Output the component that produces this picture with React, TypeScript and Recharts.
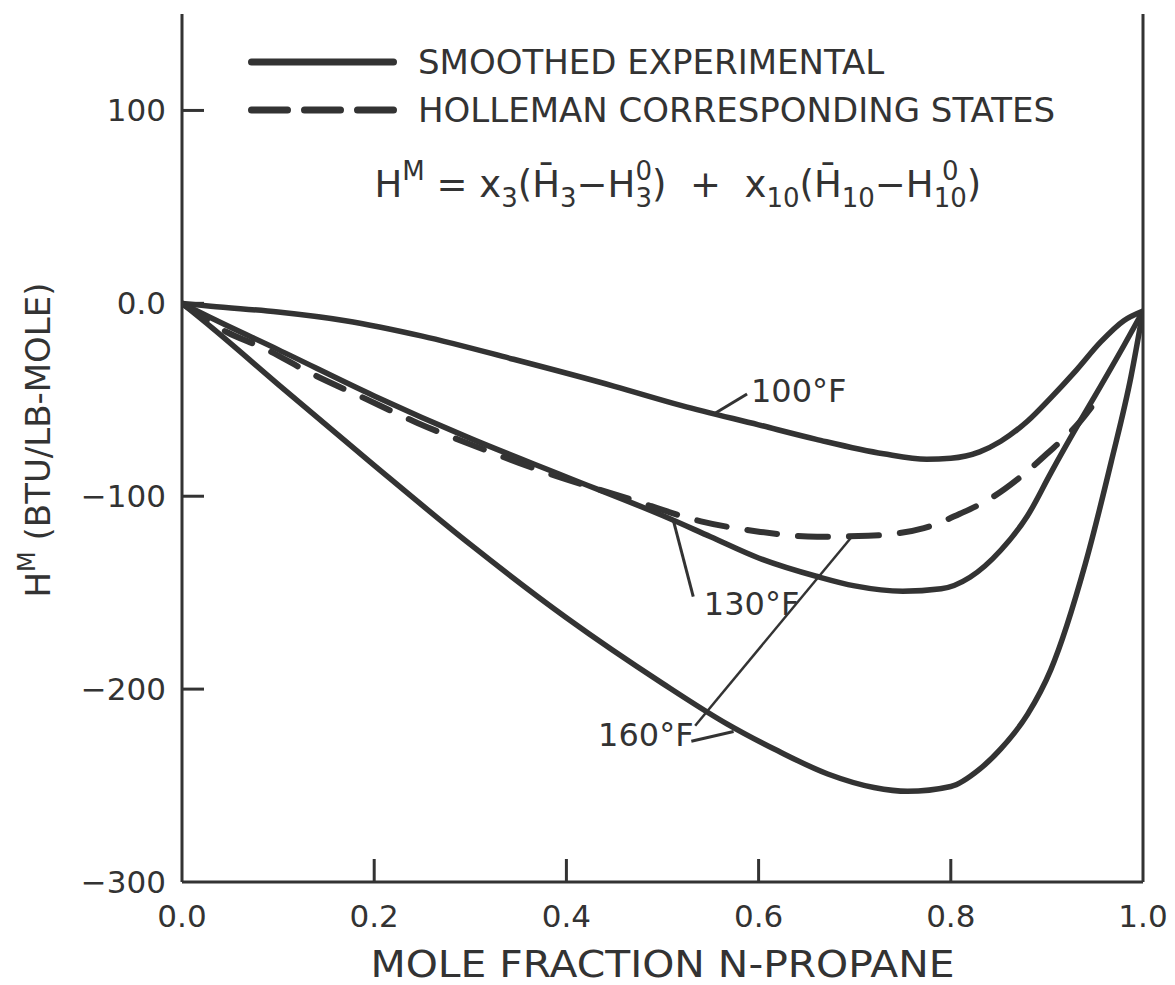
import React from "react";
import { LineChart, Line, XAxis, YAxis, Legend, ReferenceLine, ReferenceDot, Label } from "recharts";

const INK = "#333";
const FONT = "'DejaVu Sans', sans-serif";

// axis ticks
const xTicks = [0, 0.2, 0.4, 0.6, 0.8, 1.0];
const yTicks = [-300, -200, -100, 0, 100];
const rightTicks = [-200, -100, 0, 100];
const topTicks = [0.2, 0.4, 0.6, 0.8];

// smoothed experimental, 100 F
const x100 = [0, 0.03, 0.1, 0.17, 0.25, 0.345, 0.45, 0.52, 0.6, 0.66, 0.73, 0.775, 0.8, 0.83, 0.852, 0.88, 0.904, 0.93, 0.956, 0.98, 1.0];
const h100 = [0, -1.5, -4.5, -9, -17, -29, -43, -53, -63, -70.5, -78, -80.8, -80.3, -77, -71.5, -61, -49, -35, -20, -9, -4];

// smoothed experimental, 130 F
const x130 = [0, 0.03, 0.1, 0.2, 0.3, 0.4, 0.5, 0.55, 0.6, 0.66, 0.7, 0.75, 0.79, 0.82, 0.852, 0.88, 0.904, 0.93, 0.95, 0.98, 1.0];
const h130 = [0, -7.5, -24, -48, -70, -90, -110, -121, -132, -141.5, -146.5, -149.3, -148, -142, -128, -110, -88, -65, -48, -22, -4];

// smoothed experimental, 160 F
const x160 = [0, 0.032, 0.1, 0.2, 0.3, 0.4, 0.5, 0.567, 0.62, 0.672, 0.72, 0.755, 0.8, 0.83, 0.852, 0.88, 0.904, 0.94, 0.967, 0.9875, 1.0];
const h160 = [0, -13, -42, -84, -125, -163, -197, -218, -232, -244, -251, -253, -250.5, -241.5, -231, -213, -190, -135, -82, -38, -4];

// Holleman corresponding states, 160 F
const xHol = [0, 0.047, 0.084, 0.137, 0.189, 0.245, 0.31, 0.38, 0.463, 0.54, 0.602, 0.661, 0.714, 0.772, 0.81, 0.845, 0.87, 0.9, 0.935, 0.955];
const hHol = [0, -15, -23, -37, -49, -62, -75, -88, -101, -113, -118.5, -121, -120.5, -116.5, -109, -100, -91, -78, -61, -48];

const pts = (xs: number[], ys: number[]) => xs.map((x, i) => ({ x, y: ys[i] }));

const BottomTick = (p: any) => {
  const v = p.payload.value;
  return (
    <g>
      {v > 0 && v < 1 && <line x1={p.x} y1={p.y} x2={p.x} y2={p.y - 23} stroke={INK} strokeWidth={3} />}
      <text x={p.x} y={p.y + 45} textAnchor="middle" fontSize={31} fill={INK} fontFamily={FONT}>
        {v.toFixed(1)}
      </text>
    </g>
  );
};

const LeftTick = (p: any) => {
  const v = p.payload.value;
  return (
    <g>
      {v > -300 && <line x1={p.x} y1={p.y} x2={p.x + 22} y2={p.y} stroke={INK} strokeWidth={3} />}
      <text x={p.x - 16} y={p.y + 11} textAnchor="end" fontSize={31} fill={INK} fontFamily={FONT}>
        {v === 0 ? "0.0" : v < 0 ? "\u2212" + Math.abs(v) : String(v)}
      </text>
    </g>
  );
};

const RightTick = (p: any) => (
  <line x1={p.x} y1={p.y} x2={p.x - 22} y2={p.y} stroke={INK} strokeWidth={3} />
);

const TopTick = (p: any) => (
  <line x1={p.x} y1={p.y} x2={p.x} y2={p.y + 24} stroke={INK} strokeWidth={3} />
);

const legendItems = [
  { label: "SMOOTHED EXPERIMENTAL", dash: undefined },
  { label: "HOLLEMAN CORRESPONDING STATES", dash: "36 17" },
];

const LegendBox = () => (
  <svg width={880} height={96}>
    {legendItems.map((it, i) => (
      <g key={it.label}>
        <line x1={3.5} x2={145.5} y1={24 + i * 48} y2={24 + i * 48} stroke={INK} strokeWidth={7}
          strokeLinecap="round" strokeDasharray={it.dash} />
        <text x={170} y={36 + i * 48} fontSize={34} fill={INK} fontFamily={FONT}>{it.label}</text>
      </g>
    ))}
  </svg>
);

const CurveLabel = (text: string) => (p: any) => (
  <text x={p.cx} y={p.cy} dominantBaseline="central" fontSize={32} fill={INK} fontFamily={FONT}>{text}</text>
);

// H^M = x3(H3bar - H3^0) + x10(H10bar - H10^0)
const Equation = (p: any) => {
  const s = 26;
  const d = 16.5; // digit width at the small size
  return (
    <text x={p.cx} y={p.cy} textAnchor="middle" fontSize={37} fill={INK} fontFamily={FONT} style={{ whiteSpace: "pre" }}>
      <tspan>H</tspan>
      <tspan fontSize={s} dy={-17}>M</tspan>
      <tspan dy={17}> = x</tspan>
      <tspan fontSize={s} dy={10}>3</tspan>
      <tspan dy={-10}>(H{"\u0304"}</tspan>
      <tspan fontSize={s} dy={10}>3</tspan>
      <tspan dy={-10}>{"\u2212"}H</tspan>
      <tspan fontSize={s} dy={10}>3</tspan>
      <tspan fontSize={s} dx={-d} dy={-27}>0</tspan>
      <tspan dy={17}>)  +  x</tspan>
      <tspan fontSize={s} dy={10}>10</tspan>
      <tspan dy={-10}>(H{"\u0304"}</tspan>
      <tspan fontSize={s} dy={10}>10</tspan>
      <tspan dy={-10}>{"\u2212"}H</tspan>
      <tspan fontSize={s} dy={10}>10</tspan>
      <tspan fontSize={s} dx={-1.5 * d} dy={-27}>0</tspan>
      <tspan dx={d * 0.5} dy={17}>)</tspan>
    </text>
  );
};

export default function App() {
  const solid = { stroke: INK, strokeWidth: 5.5, dot: false, isAnimationActive: false, type: "monotone" as const, legendType: "none" as const };
  return (
    <LineChart width={1167} height={977} margin={{ top: 6, right: 0, bottom: 0, left: 0 }}>
      <XAxis dataKey="x" type="number" domain={[0, 1]} ticks={xTicks} height={103} tickSize={0} tickMargin={0}
        tick={BottomTick} axisLine={{ stroke: INK, strokeWidth: 3 }} allowDataOverflow>
        <Label content={(p: any) => (
          <text x={p.viewBox.x + p.viewBox.width / 2} y={p.viewBox.y + 95} textAnchor="middle" fontSize={37}
            fill={INK} fontFamily={FONT} textLength={584} lengthAdjust="spacingAndGlyphs">MOLE FRACTION N-PROPANE</text>
        )} />
      </XAxis>
      <XAxis xAxisId="top" orientation="top" dataKey="x" type="number" domain={[0, 1]} ticks={topTicks} height={0}
        tickSize={0} tickMargin={0} tick={TopTick} axisLine={{ stroke: INK, strokeWidth: 3 }} />
      <YAxis type="number" domain={[-300, 150]} ticks={yTicks} width={174} tickSize={0} tickMargin={0}
        tick={LeftTick} axisLine={{ stroke: INK, strokeWidth: 3 }} allowDataOverflow>
        <Label content={(p: any) => {
          const cx = 42;
          const cy = p.viewBox.y + p.viewBox.height / 2 - 8;
          return (
            <text x={cx} y={cy} transform={`rotate(-90, ${cx}, ${cy})`} textAnchor="middle" fontSize={34}
              fill={INK} fontFamily={FONT}>
              H<tspan fontSize={24} dy={-15}>M</tspan><tspan dy={15}> (BTU/LB-MOLE)</tspan>
            </text>
          );
        }} />
      </YAxis>
      <YAxis yAxisId="right" orientation="right" type="number" domain={[-300, 150]} ticks={rightTicks} width={32}
        tickSize={0} tickMargin={0} tick={RightTick} axisLine={{ stroke: INK, strokeWidth: 3 }} />
      <Legend layout="vertical" align="center" verticalAlign="middle" content={LegendBox}
        wrapperStyle={{ top: 30, left: 240, width: 880, height: 96 }} />

      <Line data={pts(x100, h100)} dataKey="y" name="100°F" {...solid} />
      <Line data={pts(x130, h130)} dataKey="y" name="130°F" {...solid} />
      <Line data={pts(x160, h160)} dataKey="y" name="160°F" {...solid} />
      <Line data={pts(xHol, hHol)} dataKey="y" name="Holleman 160°F" stroke={INK} strokeWidth={6} strokeDasharray="30 21"
        strokeLinecap="round" dot={false} isAnimationActive={false} type="monotone" legendType="none" />

      <ReferenceLine segment={[{ x: 0.588, y: -47 }, { x: 0.553, y: -57.5 }]} stroke={INK} strokeWidth={3} />
      <ReferenceLine segment={[{ x: 0.532, y: -152 }, { x: 0.511, y: -112 }]} stroke={INK} strokeWidth={3} />
      <ReferenceLine segment={[{ x: 0.53, y: -227 }, { x: 0.574, y: -222 }]} stroke={INK} strokeWidth={3} />
      <ReferenceLine segment={[{ x: 0.534, y: -219 }, { x: 0.697, y: -121 }]} stroke={INK} strokeWidth={2.5} />

      <ReferenceDot x={0.592} y={-45.6} r={0} shape={CurveLabel("100°F")} />
      <ReferenceDot x={0.543} y={-156} r={0} shape={CurveLabel("130°F")} />
      <ReferenceDot x={0.433} y={-224} r={0} shape={CurveLabel("160°F")} />
      <ReferenceDot x={0.516} y={55} r={0} shape={Equation} />
    </LineChart>
  );
}
